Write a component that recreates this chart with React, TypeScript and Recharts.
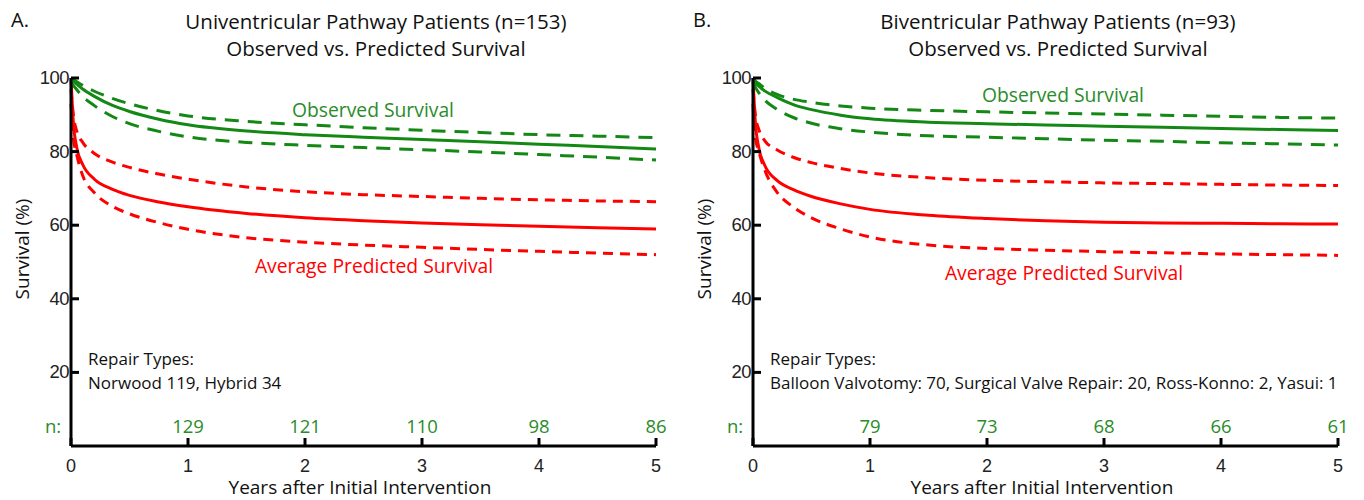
import { LineChart, Line, XAxis, YAxis } from "recharts";

// follow-up time points (years after initial intervention)
const years = [0, 0.02, 0.05, 0.1, 0.2, 0.35, 0.5, 0.75, 1, 1.5, 2, 2.5, 3, 3.5, 4, 4.5, 5];

// A. univentricular pathway
const uniObs = [100, 99.3, 98.3, 97, 95, 92.6, 90.9, 88.8, 87.3, 85.6, 84.6, 83.9, 83.3, 82.7, 82.0, 81.4, 80.7];
const uniObsHi = [100, 99.6, 99, 98, 96.4, 94.5, 93.0, 91.1, 89.7, 88.2, 87.3, 86.5, 85.8, 85.2, 84.6, 84.2, 83.8];
const uniObsLo = [99, 98, 96.8, 95, 92.5, 89.6, 87.6, 85.5, 84.0, 82.5, 81.7, 81.1, 80.5, 79.9, 79.2, 78.5, 77.7];
const uniPred = [100, 88, 81, 76.5, 72.5, 69.8, 68.1, 66.3, 65.0, 63.2, 62.0, 61.2, 60.6, 60.1, 59.7, 59.3, 59.0];
const uniPredHi = [97, 90, 85.5, 82.5, 79.5, 77.2, 75.7, 73.9, 72.5, 70.4, 69.1, 68.3, 67.8, 67.3, 66.9, 66.6, 66.4];
const uniPredLo = [93, 84, 79, 73.5, 68.8, 65.2, 63.1, 60.7, 58.9, 56.6, 55.4, 54.6, 54.0, 53.4, 52.9, 52.4, 52.0];
const uniAtRisk = [129, 121, 110, 98, 86];

// B. biventricular pathway
const biObs = [100, 98.8, 97.8, 96.5, 94.8, 92.7, 91.4, 89.9, 88.9, 88.0, 87.6, 87.2, 86.9, 86.6, 86.3, 86.0, 85.7];
const biObsHi = [100, 99.2, 98.5, 97.2, 95.6, 94.2, 93.4, 92.4, 91.8, 91.2, 90.8, 90.5, 90.2, 89.9, 89.6, 89.3, 89.1];
const biObsLo = [99, 97.5, 96, 94, 91.6, 89.2, 87.7, 86.2, 85.3, 84.3, 83.9, 83.5, 83.1, 82.8, 82.4, 82.1, 81.8];
const biPred = [100, 88, 81, 76.3, 72.3, 69.6, 67.8, 65.8, 64.3, 62.7, 61.8, 61.2, 60.8, 60.6, 60.5, 60.4, 60.3];
const biPredHi = [97, 90, 86, 83, 80.6, 78.4, 77, 75.4, 74.2, 72.9, 72.2, 71.8, 71.5, 71.3, 71.1, 70.9, 70.8];
const biPredLo = [93, 84, 80, 75, 69.2, 64.8, 62.0, 59.0, 56.8, 54.6, 53.7, 53.2, 52.8, 52.5, 52.2, 52.0, 51.8];
const biAtRisk = [79, 73, 68, 66, 61];

const xTicks = [0, 1, 2, 3, 4, 5];
const yTicks = [20, 40, 60, 80, 100];

const GREEN = "#148814";
const GREEN_TEXT = "#2a8c2a";
const RED = "#ff0000";
const TEXT = "'Open Sans', sans-serif";
const NUM = "'Liberation Sans', Arial, sans-serif";

const W = 682;
const H = 500;

function buildRows(obs: number[], obsHi: number[], obsLo: number[], pred: number[], predHi: number[], predLo: number[]) {
  return years.map((t, i) => ({
    t,
    obs: obs[i],
    obsHi: obsHi[i],
    obsLo: obsLo[i],
    pred: pred[i],
    predHi: predHi[i],
    predLo: predLo[i],
  }));
}

function XTick(props: any) {
  const { x, y, payload, atRisk } = props;
  const n = payload.value > 0 ? atRisk[payload.value - 1] : null;
  return (
    <g>
      <line x1={x} x2={x} y1={y} y2={y - 8} stroke="#000" strokeWidth={3} />
      <text x={x} y={y + 26} textAnchor="middle" fontFamily={NUM} fontSize={18} fill="#222">
        {payload.value}
      </text>
      {n !== null && (
        <text x={x} y={y - 13} textAnchor="middle" fontFamily={TEXT} fontSize={18.5} fill={GREEN_TEXT}>
          {n}
        </text>
      )}
    </g>
  );
}

function YTick(props: any) {
  const { x, y, payload } = props;
  return (
    <g>
      <line x1={x} x2={x + 8} y1={y} y2={y} stroke="#000" strokeWidth={3} />
      <text x={x - 2} y={y + 6} textAnchor="end" fontFamily={NUM} fontSize={18.5} fill="#222" letterSpacing={-0.5}>
        {payload.value}
      </text>
    </g>
  );
}

type PanelProps = {
  letter: string;
  title: string;
  rows: ReturnType<typeof buildRows>;
  atRisk: number[];
  repairs: string;
  obsLabel: [number, number];
  predLabel: [number, number];
};

function Panel({ letter, title, rows, atRisk, repairs, obsLabel, predLabel }: PanelProps) {
  return (
    <div style={{ position: "relative", width: W, height: H }}>
      <LineChart width={W} height={H} data={rows} margin={{ top: 78, right: 26, bottom: 24, left: 21 }}>
        <XAxis
          dataKey="t"
          type="number"
          domain={[0, 5]}
          ticks={xTicks}
          interval={0}
          height={30}
          tickSize={0}
          tickMargin={0}
          tickLine={false}
          axisLine={{ stroke: "#000", strokeWidth: 3 }}
          tick={<XTick atRisk={atRisk} />}
        />
        <YAxis
          type="number"
          domain={[0, 100]}
          ticks={yTicks}
          interval={0}
          width={50}
          tickSize={0}
          tickMargin={0}
          tickLine={false}
          axisLine={{ stroke: "#000", strokeWidth: 3 }}
          tick={<YTick />}
        />
        <Line type="monotone" dataKey="predHi" stroke={RED} strokeWidth={3} strokeDasharray="10 7" dot={false} isAnimationActive={false} />
        <Line type="monotone" dataKey="predLo" stroke={RED} strokeWidth={3} strokeDasharray="10 7" dot={false} isAnimationActive={false} />
        <Line type="monotone" dataKey="pred" stroke={RED} strokeWidth={3} dot={false} isAnimationActive={false} />
        <Line type="monotone" dataKey="obsHi" stroke={GREEN} strokeWidth={3} strokeDasharray="14 9" dot={false} isAnimationActive={false} />
        <Line type="monotone" dataKey="obsLo" stroke={GREEN} strokeWidth={3} strokeDasharray="14 9" dot={false} isAnimationActive={false} />
        <Line type="monotone" dataKey="obs" stroke={GREEN} strokeWidth={3} dot={false} isAnimationActive={false} />
      </LineChart>
      <svg width={W} height={H} style={{ position: "absolute", left: 0, top: 0, pointerEvents: "none" }}>
        <g fontFamily={TEXT}>
          <text x={11} y={27} fontSize={20} fill="#111">{letter}</text>
          <text x={376} y={29} textAnchor="middle" fontSize={20.5} fill="#111">{title}</text>
          <text x={376} y={56} textAnchor="middle" fontSize={20.5} fill="#111">Observed vs. Predicted Survival</text>
          <text x={obsLabel[0]} y={obsLabel[1]} textAnchor="middle" fontSize={19.3} fill={GREEN_TEXT}>Observed Survival</text>
          <text x={predLabel[0]} y={predLabel[1]} textAnchor="middle" fontSize={19.3} fill={RED}>Average Predicted Survival</text>
          <text x={88} y={365} fontSize={17} fill="#111">Repair Types:</text>
          <text x={88} y={389} fontSize={17} fill="#111">{repairs}</text>
          <text x={45} y={433} fontSize={18.5} fill={GREEN_TEXT}>n:</text>
          <text x={360} y={494} textAnchor="middle" fontSize={19} fill="#111">Years after Initial Intervention</text>
          <text transform="translate(29 249) rotate(-90)" textAnchor="middle" fontSize={19} fill="#111">Survival (%)</text>
        </g>
      </svg>
    </div>
  );
}

export default function App() {
  return (
    <div style={{ position: "absolute", left: 0, top: 0, display: "flex", width: 1364, height: 500, background: "#fff" }}>
      <Panel
        letter="A."
        title="Univentricular Pathway Patients (n=153)"
        rows={buildRows(uniObs, uniObsHi, uniObsLo, uniPred, uniPredHi, uniPredLo)}
        atRisk={uniAtRisk}
        repairs="Norwood 119, Hybrid 34"
        obsLabel={[373, 117]}
        predLabel={[374, 273]}
      />
      <Panel
        letter="B."
        title="Biventricular Pathway Patients (n=93)"
        rows={buildRows(biObs, biObsHi, biObsLo, biPred, biPredHi, biPredLo)}
        atRisk={biAtRisk}
        repairs="Balloon Valvotomy: 70, Surgical Valve Repair: 20, Ross-Konno: 2, Yasui: 1"
        obsLabel={[381, 102]}
        predLabel={[382, 280]}
      />
    </div>
  );
}
